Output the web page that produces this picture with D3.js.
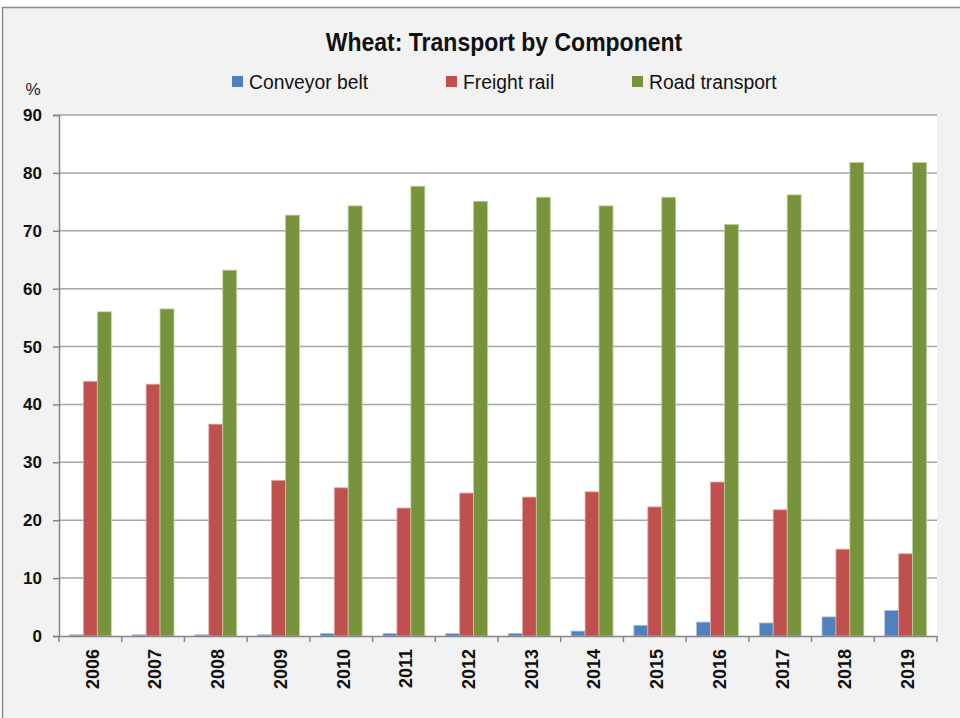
<!doctype html>
<html lang="en">
<head>
  <meta charset="utf-8">
  <title>Wheat: Transport by Component</title>
  <style>
    html, body { margin: 0; padding: 0; background: #fff; }
    svg { display: block; }
    .tick text { font-family: "Liberation Sans", Arial, sans-serif; font-weight: bold; }
  </style>
</head>
<body>
  <div id="chart"></div>
  <script src="https://cdn.jsdelivr.net/npm/d3@7"></script>
  <script>
(function(){

  var years = ["2006","2007","2008","2009","2010","2011","2012","2013","2014","2015","2016","2017","2018","2019"];
  var seriesNames = ["Conveyor belt", "Freight rail", "Road transport"];
  var conveyor = [0.2, 0.2, 0.2, 0.2, 0.45, 0.45, 0.4, 0.45, 0.85, 1.85, 2.4, 2.25, 3.3, 4.4];
  var rail = [44.0, 43.5, 36.6, 26.9, 25.6, 22.1, 24.7, 24.0, 24.9, 22.3, 26.6, 21.8, 15.0, 14.2];
  var road = [56.0, 56.5, 63.2, 72.7, 74.3, 77.7, 75.1, 75.8, 74.3, 75.8, 71.1, 76.2, 81.8, 81.8];
  var yTicks = [0, 10, 20, 30, 40, 50, 60, 70, 80, 90];

  var colors = ["#4f81bd", "#c0504d", "#77933c"];
  var edges = ["#a7c0de", "#dfa9a7", "#bcd09c"];

  var width = 960, height = 718;
  var left = 59, right = 937, top = 115, bottom = 636;
  var font = "'Liberation Sans Narrow', 'Liberation Sans', Arial, sans-serif";

  var svg = d3.select("#chart").append("svg")
      .attr("width", width)
      .attr("height", height);

  // grey chart background with thin frame
  svg.append("rect")
      .attr("x", 2.5).attr("y", 7.5)
      .attr("width", width + 10).attr("height", height)
      .attr("fill", "#f2f2f2")
      .attr("stroke", "#8c8c8c")
      .attr("stroke-width", 1.5);

  // plot area
  svg.append("rect")
      .attr("x", left).attr("y", top)
      .attr("width", right - left).attr("height", bottom - top)
      .attr("fill", "#fff");

  var x = d3.scaleBand().domain(years).range([left, right]).paddingInner(0).paddingOuter(0);
  var xs = d3.scaleBand().domain(seriesNames).range([0, x.bandwidth()]).paddingInner(0).paddingOuter(0.75);
  var y = d3.scaleLinear().domain([0, 90]).range([bottom, top]);

  // gridlines
  svg.append("g")
    .selectAll("line")
    .data(yTicks.slice(1))
    .enter().append("line")
      .attr("x1", left).attr("x2", right)
      .attr("y1", function(d){ return y(d); })
      .attr("y2", function(d){ return y(d); })
      .attr("stroke", "#a6a6a6")
      .attr("stroke-width", 1.5);

  var data = years.map(function(yr, i){
    return { year: yr, values: [conveyor[i], rail[i], road[i]] };
  });

  var groups = svg.append("g").selectAll("g")
    .data(data)
    .enter().append("g")
      .attr("transform", function(d){ return "translate(" + x(d.year) + ",0)"; });

  groups.selectAll("rect")
    .data(function(d){ return d.values.map(function(v, j){ return { s: j, v: v }; }); })
    .enter().append("rect")
      .attr("x", function(d){ return xs(seriesNames[d.s]); })
      .attr("width", xs.bandwidth())
      .attr("y", function(d){ return y(d.v); })
      .attr("height", function(d){ return bottom - y(d.v); })
      .attr("fill", function(d){ return colors[d.s]; })
      .attr("stroke", function(d){ return edges[d.s]; })
      .attr("stroke-width", 0.8);

  // y axis
  var yAxis = svg.append("g")
      .attr("transform", "translate(" + left + ",0)")
      .call(d3.axisLeft(y).tickValues(yTicks).tickSize(6).tickPadding(11));
  yAxis.select(".domain").attr("stroke", "#868686").attr("stroke-width", 1.5);
  yAxis.selectAll(".tick line").attr("stroke", "#868686").attr("stroke-width", 1.5);
  yAxis.selectAll(".tick text").attr("font-size", 17).attr("fill", "#111");

  // x axis
  var xAxis = svg.append("g")
      .attr("transform", "translate(0," + bottom + ")")
      .call(d3.axisBottom(x).tickSize(0).tickPadding(0));
  xAxis.select(".domain").attr("stroke", "#868686").attr("stroke-width", 1.5);
  xAxis.selectAll(".tick text")
      .attr("font-size", 18)
      .attr("fill", "#111")
      .attr("transform", "rotate(-90)")
      .attr("text-anchor", "end")
      .attr("x", -13)
      .attr("y", 2)
      .attr("dy", "0.35em");

  // category separators below the axis
  svg.append("g").selectAll("line")
    .data(years.concat(["end"]))
    .enter().append("line")
      .attr("x1", function(d, i){ return left + i * x.step(); })
      .attr("x2", function(d, i){ return left + i * x.step(); })
      .attr("y1", bottom).attr("y2", bottom + 6)
      .attr("stroke", "#868686")
      .attr("stroke-width", 1.5);

  // title (squeezed horizontally to look like a condensed face)
  svg.append("text")
      .attr("transform", "translate(504,51) scale(0.92,1)")
      .attr("text-anchor", "middle")
      .attr("font-family", font)
      .attr("font-weight", "bold")
      .attr("font-size", 25)
      .attr("fill", "#111")
      .text("Wheat: Transport by Component");

  // unit label
  svg.append("text")
      .attr("x", 33).attr("y", 95)
      .attr("text-anchor", "middle")
      .attr("font-family", font)
      .attr("font-size", 17)
      .attr("fill", "#222")
      .text("%");

  // legend
  var legendX = [232, 446, 632];
  var legend = svg.append("g").selectAll("g")
    .data(seriesNames)
    .enter().append("g")
      .attr("transform", function(d, i){ return "translate(" + legendX[i] + ",76)"; });
  legend.append("rect")
      .attr("width", 11).attr("height", 11)
      .attr("fill", function(d, i){ return colors[i]; });
  legend.append("text")
      .attr("transform", "translate(17,13) scale(0.92,1)")
      .attr("font-family", font)
      .attr("font-size", 21)
      .attr("fill", "#111")
      .text(function(d){ return d; });

})();
  </script>
</body>
</html>
